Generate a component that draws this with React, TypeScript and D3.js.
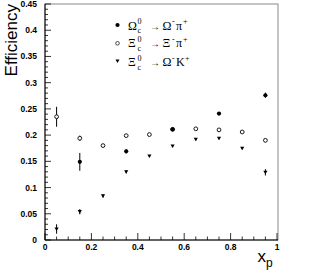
import * as d3 from 'd3';

const W = 317;
const H = 274;

// Ω_c^0 → Ω⁻π⁺ (filled circles)
const omegaX = [0.15, 0.35, 0.55, 0.75, 0.95];
const omegaY = [0.149, 0.169, 0.211, 0.241, 0.276];
const omegaErr = [0.017, 0.004, 0.003, 0.003, 0.005];

// Ξ_c^0 → Ξ⁻π⁺ (open circles)
const xiX = [0.05, 0.15, 0.25, 0.35, 0.45, 0.55, 0.65, 0.75, 0.85, 0.95];
const xiY = [0.235, 0.194, 0.180, 0.199, 0.201, 0.211, 0.212, 0.210, 0.206, 0.190];
const xiErr = [0.019, 0.005, 0.002, 0.002, 0.002, 0.002, 0.002, 0.002, 0.002, 0.003];

// Ξ_c^0 → Ω⁻K⁺ (down triangles)
const kX = [0.05, 0.15, 0.25, 0.35, 0.45, 0.55, 0.65, 0.75, 0.85, 0.95];
const kY = [0.021, 0.054, 0.084, 0.130, 0.160, 0.179, 0.192, 0.194, 0.175, 0.129];
const kErr = [0.009, 0.005, 0.003, 0.003, 0.002, 0.002, 0.002, 0.002, 0.002, 0.006];

const xTicks = [0, 0.2, 0.4, 0.6, 0.8, 1];
const yTicks = [0, 0.05, 0.1, 0.15, 0.2, 0.25, 0.3, 0.35, 0.4, 0.45];

const L = 45;
const R = 277;
const T = 4;
const B = 240;

const TICK_FONT = '"Liberation Sans", Arial, sans-serif';
const SERIF = '"Liberation Serif", "Times New Roman", serif';

export default function App() {
  const x = d3.scaleLinear().domain([0, 1]).range([L, R]);
  const y = d3.scaleLinear().domain([0, 0.45]).range([B, T]);

  const xMinor = d3.range(0, 1.0001, 0.05);
  const yMinor = d3.range(0, 0.4501, 0.01);

  const tri = (cx: number, cy: number, s = 2.1) =>
    `M${cx - s},${cy - s * 0.75}L${cx + s},${cy - s * 0.75}L${cx},${cy + s * 0.95}Z`;

  const errBar = (xs: number[], ys: number[], es: number[], key: string) =>
    xs.map((v, i) => (
      <line
        key={`${key}-e${i}`}
        x1={x(v)} x2={x(v)}
        y1={y(ys[i] - es[i])} y2={y(ys[i] + es[i])}
        stroke="#000" strokeWidth={1}
      />
    ));

  const fmt = (v: number) => (v === 0 ? '0' : v === 1 ? '1' : d3.format('')(+v.toFixed(2)));

  // legend rows
  const legX = 117.5;
  const textX = 128;
  const rows = [
    { mark: 'filled', my: 25, base: 29.5, a: 'Ω', b: 'Ω', bSup: '-', c: 'π', cSup: '+' },
    { mark: 'open', my: 43.3, base: 47, a: 'Ξ', b: 'Ξ', bSup: '-', c: 'π', cSup: '+' },
    { mark: 'tri', my: 61, base: 66, a: 'Ξ', b: 'Ω', bSup: '-', c: 'K', cSup: '+' },
  ];

  return (
    <svg width={W} height={H} style={{ position: 'absolute', left: 0, top: 0, background: '#fff' }}>
      <rect x={0} y={0} width={W} height={H} fill="#fff" />
      {/* frame */}
      <rect x={L} y={T} width={R + 1 - L} height={B - T} fill="none" stroke="#8a8a8a" strokeWidth={1} />
      <line x1={L} x2={L} y1={T} y2={B} stroke="#000" strokeWidth={1} />
      <line x1={L} x2={R + 1} y1={B} y2={B} stroke="#000" strokeWidth={1} />

      {/* y ticks */}
      {yMinor.map((v, i) => {
        const major = i % 5 === 0;
        return (
          <line key={`ym${i}`} x1={L} x2={L + (major ? 6 : 3)} y1={y(v)} y2={y(v)} stroke="#000" strokeWidth={0.8} />
        );
      })}
      {yTicks.map((v) => (
        <text key={`yt${v}`} x={37} y={y(v) + 3} textAnchor="end" fontFamily={TICK_FONT}
          fontWeight="bold" fontSize={8.5} fill="#000">{fmt(v)}</text>
      ))}

      {/* x ticks */}
      {xMinor.map((v, i) => {
        const major = i % 4 === 0;
        return (
          <line key={`xm${i}`} x1={x(v)} x2={x(v)} y1={B} y2={B - (major ? 7 : 3.5)} stroke="#000" strokeWidth={0.8} />
        );
      })}
      {xTicks.map((v) => (
        <text key={`xt${v}`} x={x(v)} y={250} textAnchor="middle" fontFamily={TICK_FONT}
          fontWeight="bold" fontSize={8.5} fill="#000">{fmt(v)}</text>
      ))}

      {/* axis titles */}
      <text transform={`translate(17,4) rotate(-90)`} textAnchor="end" fontFamily={TICK_FONT}
        fontSize={17} fill="#000">Efficiency</text>
      <text x={257.5} y={262} fontFamily={TICK_FONT} fontSize={17} fill="#000">
        x<tspan fontSize={12} dy={5}>p</tspan>
      </text>

      {/* error bars */}
      {errBar(xiX, xiY, xiErr, 'xi')}
      {errBar(kX, kY, kErr, 'k')}
      {errBar(omegaX, omegaY, omegaErr, 'om')}

      {/* markers */}
      {xiX.map((v, i) => (
        <circle key={`xi${i}`} cx={x(v)} cy={y(xiY[i])} r={1.9} fill="#fff" stroke="#000" strokeWidth={0.9} />
      ))}
      {kX.map((v, i) => (
        <path key={`k${i}`} d={tri(x(v), y(kY[i]))} fill="#000" />
      ))}
      {omegaX.map((v, i) => (
        <circle key={`om${i}`} cx={x(v)} cy={y(omegaY[i])} r={2.1} fill="#000" />
      ))}

      {/* legend */}
      {rows.map((r, i) => (
        <g key={`leg${i}`}>
          {r.mark === 'filled' && <circle cx={legX} cy={r.my} r={2.1} fill="#000" />}
          {r.mark === 'open' && <circle cx={legX} cy={r.my} r={1.8} fill="#fff" stroke="#000" strokeWidth={0.7} />}
          {r.mark === 'tri' && <path d={tri(legX, r.my, 2)} fill="#000" />}
          <text fontFamily={SERIF} fontSize={12} fill="#000">
            <tspan x={textX} y={r.base}>{r.a}</tspan>
            <tspan x={textX + 9.5} y={r.base + 3.5} fontSize={8}>c</tspan>
            <tspan x={textX + 9.5} y={r.base - 5.5} fontSize={8}>0</tspan>
            <tspan x={textX + 22} y={r.base} fontSize={10}>→</tspan>
            <tspan x={textX + 34.5} y={r.base}>{r.b}</tspan>
            <tspan x={textX + 44} y={r.base - 5.5} fontSize={8}>{r.bSup}</tspan>
            <tspan x={textX + 48} y={r.base}>{r.c}</tspan>
            <tspan x={textX + 48 + (r.c === 'K' ? 9 : 7)} y={r.base - 5.5} fontSize={8}>{r.cSup}</tspan>
          </text>
        </g>
      ))}
    </svg>
  );
}
